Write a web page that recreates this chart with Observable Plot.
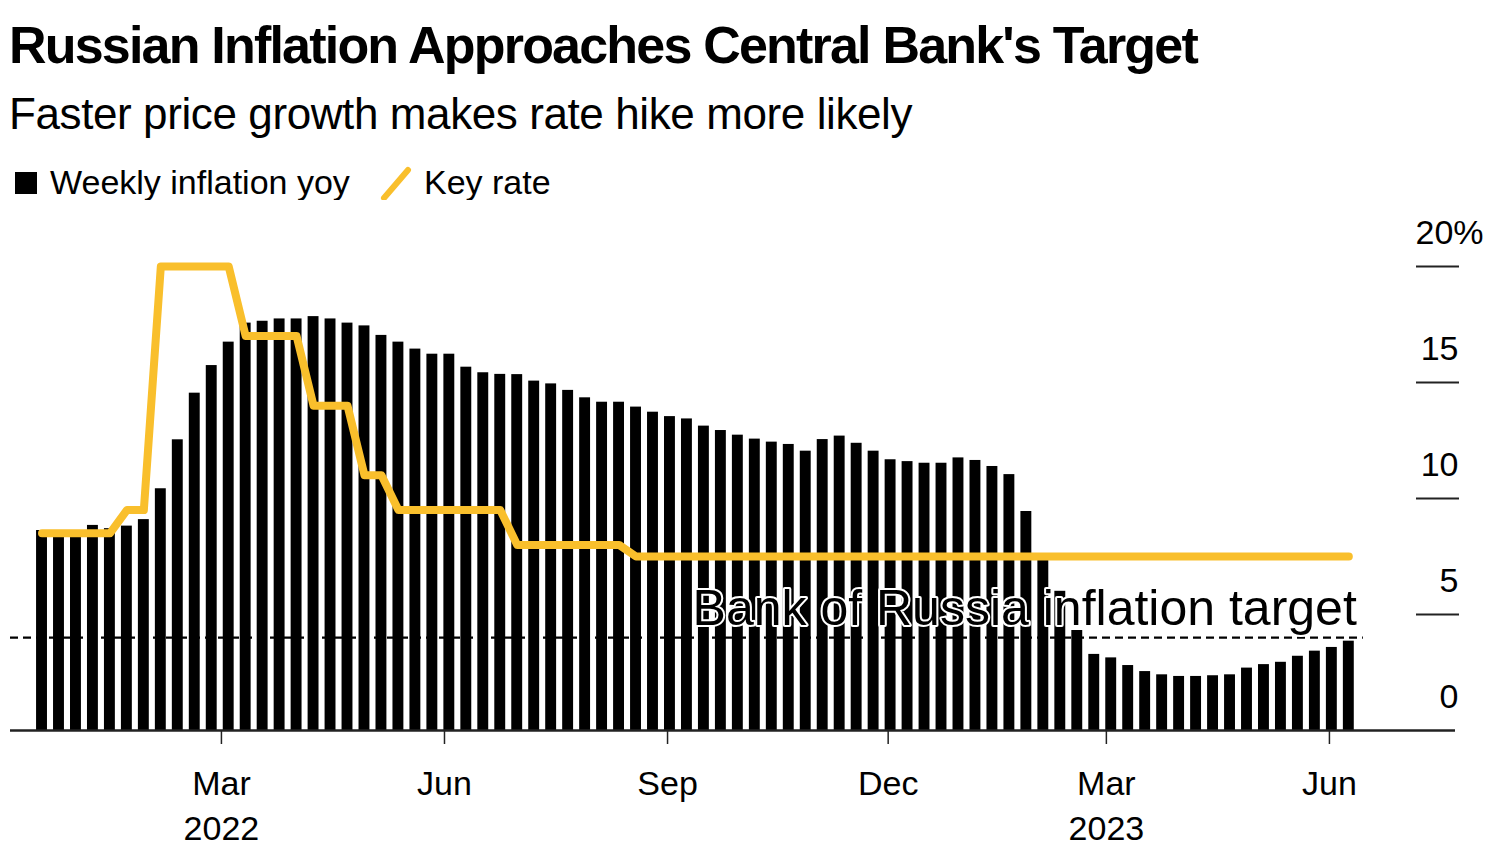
<!DOCTYPE html>
<html>
<head>
<meta charset="utf-8">
<script src="https://cdn.jsdelivr.net/npm/d3@7"></script>
<script src="https://cdn.jsdelivr.net/npm/@observablehq/plot@0.6"></script>
<style>
  html, body { margin: 0; padding: 0; background: #fff; }
  body { width: 1500px; height: 850px; position: relative; overflow: hidden; font-family: "Liberation Sans", Arial, sans-serif; color: #000; }
  .title { position: absolute; left: 9px; top: 19px; font-size: 52px; line-height: 52px; font-weight: bold; letter-spacing: -1.8px; white-space: nowrap; }
  .subtitle { position: absolute; left: 9px; top: 92px; font-size: 44px; line-height: 44px; letter-spacing: -0.4px; white-space: nowrap; }
  .legend { position: absolute; left: 0; top: 160px; height: 44px; width: 700px; font-size: 34px; line-height: 34px; }
  .legend .sw { position: absolute; left: 15px; top: 12px; width: 22px; height: 22px; background: #000; }
  .legend .t1 { position: absolute; left: 50px; top: 5px; white-space: nowrap; }
  .legend svg { position: absolute; left: 378px; top: 4px; }
  .legend .t2 { position: absolute; left: 424px; top: 5px; white-space: nowrap; }
  #chart { position: absolute; left: 0; top: 200px; }
</style>
</head>
<body>
<div class="title">Russian Inflation Approaches Central Bank's Target</div>
<div class="subtitle">Faster price growth makes rate hike more likely</div>
<div class="legend">
  <div class="sw"></div><span class="t1">Weekly inflation yoy</span>
  <svg width="36" height="40"><line x1="6" y1="34" x2="30" y2="6" stroke="#f9bf2c" stroke-width="6" stroke-linecap="round"/></svg>
  <span class="t2">Key rate</span>
</div>
<div id="chart"></div>
<script>
// Weekly inflation, % year on year (one value per week, starting mid-December 2021)
const inflation = [
  8.62, 8.58, 8.60, 8.84, 8.70, 8.81, 9.09, 10.42, 12.53, 14.54,
  15.73, 16.74, 17.56, 17.64, 17.74, 17.74, 17.84, 17.74, 17.56, 17.44,
  17.03, 16.74, 16.44, 16.22, 16.22, 15.66, 15.42, 15.35, 15.34, 15.06,
  14.94, 14.66, 14.34, 14.15, 14.15, 13.94, 13.72, 13.53, 13.43, 13.12,
  12.93, 12.73, 12.56, 12.43, 12.33, 12.04, 12.54, 12.69, 12.38, 12.04,
  11.67, 11.59, 11.52, 11.52, 11.75, 11.64, 11.38, 11.03, 9.44, 7.33,
  6.00, 4.31, 3.28, 3.13, 2.80, 2.54, 2.40, 2.33, 2.33, 2.36,
  2.40, 2.69, 2.84, 2.94, 3.20, 3.42, 3.58, 3.85
];
// Key rate, %, same weeks
const keyRate = [
  8.5, 8.5, 8.5, 8.5, 8.5, 9.5, 9.5, 20, 20, 20,
  20, 20, 17, 17, 17, 17, 14, 14, 14, 11,
  11, 9.5, 9.5, 9.5, 9.5, 9.5, 9.5, 9.5, 8, 8,
  8, 8, 8, 8, 8, 7.5, 7.5, 7.5, 7.5, 7.5,
  7.5, 7.5, 7.5, 7.5, 7.5, 7.5, 7.5, 7.5, 7.5, 7.5,
  7.5, 7.5, 7.5, 7.5, 7.5, 7.5, 7.5, 7.5, 7.5, 7.5,
  7.5, 7.5, 7.5, 7.5, 7.5, 7.5, 7.5, 7.5, 7.5, 7.5,
  7.5, 7.5, 7.5, 7.5, 7.5, 7.5, 7.5, 7.5
];
const firstWeek = "2021-12-17";
const targetRate = 4;
const targetLabel = "Bank of Russia inflation target";
const xDomain = ["2021-12-04", "2023-07-23"];
const xTicks = ["2022-03-01", "2022-06-01", "2022-09-01", "2022-12-01", "2023-03-01", "2023-06-01"];
const yTicks = [0, 5, 10, 15, 20];

const start = new Date(firstWeek);
const dates = inflation.map((_, i) => d3.utcDay.offset(start, 7 * i));
const data = dates.map((date, i) => ({date, inflation: inflation[i], keyRate: keyRate[i]}));
const lastDate = dates[dates.length - 1];
const domain = xDomain.map(d => new Date(d));
const fmtMonth = d3.utcFormat("%b");
const tickFormat = d => fmtMonth(d) + (d.getUTCMonth() === 2 ? "\n" + d.getUTCFullYear() : "");

const chart = Plot.plot({
  width: 1500,
  height: 650,
  marginLeft: 10,
  marginRight: 45,
  marginTop: 66,
  marginBottom: 120,
  style: {fontFamily: "'Liberation Sans', Arial, sans-serif", fontSize: "34px", color: "#000", background: "#fff", overflow: "visible"},
  x: {type: "utc", domain},
  y: {domain: [0, 20]},
  marks: [
    Plot.ruleY([targetRate], {x1: domain[0], x2: d3.utcDay.offset(lastDate, 6), stroke: "#000", strokeWidth: 2.2, strokeDasharray: "8,5"}),
    Plot.rectY(data, {
      x1: d => d3.utcHour.offset(d.date, -54),
      x2: d => d3.utcHour.offset(d.date, 54),
      y: "inflation",
      fill: "#000"
    }),
    Plot.text([targetLabel], {
      x: lastDate, y: targetRate, text: d => d,
      textAnchor: "end", lineAnchor: "bottom", dx: 8, dy: -13,
      fontSize: 50, fill: "#000", stroke: "#fff", strokeWidth: 4
    }),
    Plot.line(data, {x: "date", y: "keyRate", stroke: "#f9bf2c", strokeWidth: 8, strokeLinejoin: "round", strokeLinecap: "round"}),
    Plot.ruleY([0], {stroke: "#222", strokeWidth: 2.5}),
    Plot.axisX({ticks: xTicks.map(d => new Date(d)), tickFormat, tickSize: 14, tickPadding: 18, lineHeight: 1.33, stroke: "#222", strokeWidth: 1.5, fontSize: 34, label: null}),
    Plot.axisY({ticks: yTicks.filter(d => d > 0), anchor: "right", tickSize: -43, dx: 3, fill: "none", stroke: "#222", strokeWidth: 2, label: null}),
    Plot.axisY({ticks: yTicks.filter(d => d < 20), anchor: "right", tickSize: 0, tickPadding: 0, textAnchor: "end", dx: 3, dy: -33, fontSize: 34, label: null}),
    Plot.axisY({ticks: yTicks.filter(d => d === 20), anchor: "right", tickSize: 0, tickPadding: 0, textAnchor: "start", dx: -40, dy: -33, fontSize: 34, tickFormat: d => d + "%", label: null})
  ]
});
document.getElementById("chart").appendChild(chart);
</script>
</body>
</html>
